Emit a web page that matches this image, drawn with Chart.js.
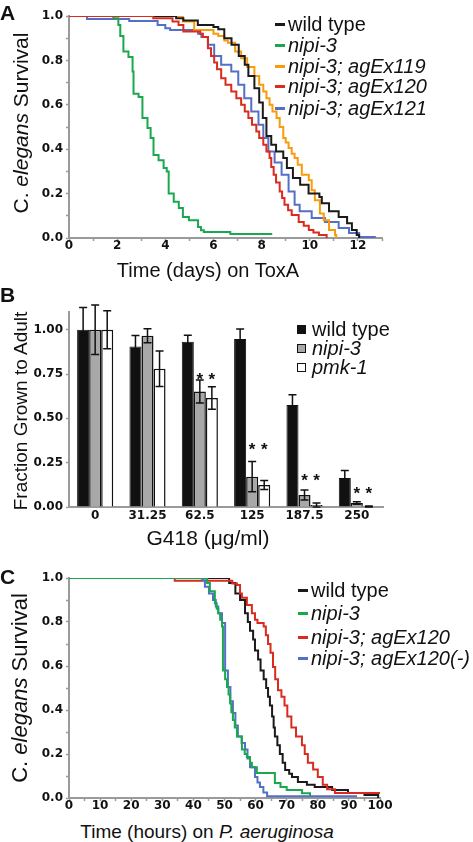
<!DOCTYPE html>
<html>
<head>
<meta charset="utf-8">
<script src="https://cdn.jsdelivr.net/npm/chart.js@4.4.1/dist/chart.umd.min.js"></script>
<style>
  html, body { margin: 0; padding: 0; background: #fff; }
  #page { position: relative; width: 473px; height: 842px; overflow: hidden;
          font-family: "Liberation Sans", Arial, sans-serif; color: #111; }
  canvas { position: absolute; left: 0; }
  .txt { position: absolute; white-space: nowrap; line-height: 1; }
  .ytitle { transform: translate(-50%, -50%) rotate(-90deg); }
  .xtitle { transform: translate(-50%, -50%); }
  .letter { font-weight: bold; font-size: 21px; }
  .leg { position: absolute; display: flex; align-items: center; white-space: nowrap;
         font-size: 20px; height: 20px; }
  .dash { display: inline-block; width: 10px; height: 3px; margin-right: 3px; }
  .sq { display: inline-block; width: 7px; height: 7px; border: 1px solid #111; margin-right: 6px; }
</style>
</head>
<body>
<div id="page">
  <canvas id="chartA" width="473" height="260" style="top:0px"></canvas>
  <canvas id="chartB" width="473" height="237" style="top:290px"></canvas>
  <canvas id="chartC" width="473" height="260" style="top:560px"></canvas>

  <div class="txt letter" style="left:0px; top:2px">A</div>
  <div class="txt letter" style="left:0px; top:284px">B</div>
  <div class="txt letter" style="left:0px; top:566px">C</div>

  <div class="txt ytitle" style="left:20px; top:123px; font-size:21px">C. <i>elegans</i> Survival</div>
  <div class="txt xtitle" style="left:208px; top:270px; font-size:20px">Time (days) on ToxA</div>

  <div class="txt ytitle" style="left:20px; top:411px; font-size:19px">Fraction Grown to Adult</div>
  <div class="txt xtitle" style="left:208px; top:537px; font-size:21px">G418 (μg/ml)</div>

  <div class="txt ytitle" style="left:20px; top:688px; font-size:22px">C. <i>elegans</i> Survival</div>
  <div class="txt xtitle" style="left:207px; top:831px; font-size:19px">Time (hours) on <i>P. aeruginosa</i></div>

  <div class="leg" style="left:275px; top:14px"><span class="dash" style="background:#1a1a1a"></span>wild type</div>
  <div class="leg" style="left:275px; top:35px"><span class="dash" style="background:#1aa84e"></span><i>nipi-3</i></div>
  <div class="leg" style="left:275px; top:56px"><span class="dash" style="background:#f99b0c"></span><i>nipi-3; agEx119</i></div>
  <div class="leg" style="left:275px; top:76px"><span class="dash" style="background:#d92b1e"></span><i>nipi-3; agEx120</i></div>
  <div class="leg" style="left:275px; top:98px"><span class="dash" style="background:#5470c6"></span><i>nipi-3; agEx121</i></div>

  <div class="leg" style="left:297px; top:319px"><span class="sq" style="background:#111"></span>wild type</div>
  <div class="leg" style="left:297px; top:338px"><span class="sq" style="background:#a8a8a8"></span><i>nipi-3</i></div>
  <div class="leg" style="left:297px; top:357px"><span class="sq" style="background:#fff"></span><i>pmk-1</i></div>

  <div class="leg" style="left:298px; top:580px"><span class="dash" style="background:#1a1a1a"></span>wild type</div>
  <div class="leg" style="left:298px; top:603px"><span class="dash" style="background:#1aa84e"></span><i>nipi-3</i></div>
  <div class="leg" style="left:298px; top:627px"><span class="dash" style="background:#d92b1e"></span><i>nipi-3; agEx120</i></div>
  <div class="leg" style="left:298px; top:648px"><span class="dash" style="background:#5470c6"></span><i>nipi-3; agEx120(-)</i></div>
</div>

<script>
// A: survival on ToxA (days)
const toxaWtDays = [0, 4.45, 4.75, 5.35, 6.0, 6.2, 6.45, 6.75, 7.05, 7.3, 7.45, 7.7, 7.9, 8.05, 8.2, 8.4, 8.6, 8.9, 9.05, 9.3, 9.6, 9.95, 10.4, 10.5, 10.8, 11.2, 11.55, 11.75, 11.95, 12.05];
const toxaWtSurv = [1, 0.99, 0.98, 0.96, 0.95, 0.94, 0.90, 0.87, 0.82, 0.78, 0.73, 0.675, 0.61, 0.54, 0.46, 0.42, 0.39, 0.36, 0.315, 0.27, 0.24, 0.20, 0.185, 0.157, 0.12, 0.095, 0.067, 0.036, 0.013, 0];
const toxaNipiDays = [0, 1.84, 2.05, 2.13, 2.26, 2.47, 2.64, 2.68, 2.89, 3.05, 3.26, 3.39, 3.51, 3.72, 3.93, 4.06, 4.14, 4.35, 4.56, 4.73, 4.98, 5.36, 5.48, 5.6, 6.7, 8.4];
const toxaNipiSurv = [1, 0.99, 0.96, 0.91, 0.84, 0.815, 0.75, 0.65, 0.635, 0.54, 0.495, 0.45, 0.374, 0.35, 0.315, 0.30, 0.20, 0.163, 0.135, 0.095, 0.08, 0.05, 0.035, 0.027, 0.018, 0.014];
const toxa119Days = [0, 4.73, 5.2, 6.0, 6.2, 6.45, 6.6, 6.9, 7.15, 7.4, 7.7, 7.9, 8.07, 8.2, 8.33, 8.45, 8.62, 8.75, 8.9, 9.0, 9.12, 9.25, 9.37, 9.5, 9.67, 9.96, 10.08, 10.21, 10.42, 10.58, 10.8, 11.05, 11.1];
const toxa119Surv = [1, 0.975, 0.937, 0.92, 0.91, 0.89, 0.88, 0.84, 0.81, 0.77, 0.73, 0.69, 0.66, 0.63, 0.60, 0.57, 0.54, 0.50, 0.45, 0.43, 0.405, 0.38, 0.36, 0.33, 0.285, 0.26, 0.215, 0.17, 0.11, 0.08, 0.036, 0.013, 0];
const toxa120Days = [0, 3.5, 4.3, 4.55, 4.75, 5.45, 5.56, 5.77, 5.9, 6.03, 6.15, 6.32, 6.5, 6.74, 6.95, 7.15, 7.3, 7.45, 7.6, 7.78, 7.9, 8.07, 8.2, 8.33, 8.4, 8.5, 8.6, 8.75, 8.85, 8.95, 9.1, 9.25, 9.54, 9.75, 9.96, 10.15, 10.38, 10.7];
const toxa120Surv = [1, 0.99, 0.975, 0.96, 0.93, 0.92, 0.905, 0.855, 0.82, 0.79, 0.76, 0.72, 0.69, 0.66, 0.63, 0.60, 0.57, 0.54, 0.51, 0.48, 0.45, 0.42, 0.39, 0.36, 0.32, 0.285, 0.25, 0.21, 0.18, 0.15, 0.125, 0.104, 0.072, 0.055, 0.036, 0.025, 0.013, 0];
const toxa121Days = [0, 0.75, 2.5, 3.68, 4.0, 4.2, 5.36, 5.5, 5.77, 6.03, 6.32, 6.74, 7.03, 7.28, 7.57, 7.87, 8.07, 8.28, 8.54, 8.83, 9.12, 9.37, 9.58, 10.08, 10.63, 11.2, 11.63, 12.05, 12.7];
const toxa121Surv = [1, 0.986, 0.977, 0.96, 0.945, 0.937, 0.92, 0.905, 0.87, 0.82, 0.78, 0.75, 0.69, 0.63, 0.57, 0.51, 0.45, 0.39, 0.34, 0.285, 0.21, 0.15, 0.12, 0.09, 0.072, 0.045, 0.022, 0.005, 0];

// B: growth on G418
const doses = ['0', '31.25', '62.5', '125', '187.5', '250'];
const wtGrowth = [1.00, 0.905, 0.932, 0.947, 0.576, 0.164];
const wtErr = [0.125, 0.063, 0.037, 0.057, 0.057, 0.042];
const nipiGrowth = [1.00, 0.966, 0.651, 0.171, 0.068, 0.022];
const nipiErr = [0.14, 0.04, 0.065, 0.085, 0.028, 0.007];
const pmkGrowth = [1.00, 0.78, 0.615, 0.124, 0.011, 0.003];
const pmkErr = [0.107, 0.10, 0.063, 0.025, 0.012, 0.003];
const starLevel = [null, null, 0.735, 0.34, 0.165, 0.095];
const growthTicks = [0, 0.25, 0.5, 0.75, 1.0];

// C: survival on P. aeruginosa (hours)
const paWtHours = [0, 51.5, 53.5, 55, 56.6, 57.5, 58.2, 59.2, 59.8, 60.8, 61.6, 62.6, 63.4, 64, 64.6, 65.3, 65.8, 66.2, 67, 67.8, 68.7, 69.5, 70.8, 71.7, 73.6, 76.5, 79, 84.6, 89.7, 95, 99.4];
const paWtSurv = [1, 0.977, 0.93, 0.90, 0.84, 0.80, 0.76, 0.72, 0.67, 0.63, 0.58, 0.54, 0.50, 0.46, 0.42, 0.37, 0.32, 0.28, 0.24, 0.20, 0.16, 0.127, 0.11, 0.095, 0.073, 0.06, 0.05, 0.036, 0.023, 0.014, 0];
const paNipiHours = [0, 44.4, 45.3, 46.9, 47.5, 48, 48.6, 49.2, 49.5, 50.2, 50.8, 51.3, 51.8, 52.2, 52.7, 53.3, 54, 55.6, 56.5, 57.2, 58.2, 58.8, 60.4, 66.2, 68, 70, 74.9, 77.5];
const paNipiSurv = [1, 0.977, 0.94, 0.885, 0.86, 0.84, 0.81, 0.78, 0.58, 0.54, 0.505, 0.47, 0.43, 0.39, 0.355, 0.32, 0.28, 0.22, 0.20, 0.186, 0.16, 0.14, 0.114, 0.068, 0.05, 0.036, 0.022, 0.008];
const pa120Hours = [0, 34, 52.5, 54, 55, 55.6, 57.2, 58.8, 59.8, 60.6, 62.6, 63.3, 64, 64.8, 65.6, 66.3, 67.2, 68.3, 69.3, 70.2, 71.5, 73, 74.9, 75.8, 76.8, 78.5, 80, 81.6, 83, 85.5, 100];
const pa120Surv = [1, 0.988, 0.975, 0.968, 0.93, 0.91, 0.877, 0.84, 0.81, 0.795, 0.78, 0.74, 0.70, 0.66, 0.595, 0.54, 0.49, 0.46, 0.42, 0.37, 0.32, 0.28, 0.24, 0.20, 0.16, 0.13, 0.095, 0.06, 0.04, 0.023, 0.02];
const pa120mHours = [0, 42.8, 43.7, 45, 46.3, 47.2, 48, 49.2, 50.2, 51.1, 51.9, 52.7, 53.5, 54.3, 55.5, 56.6, 57.4, 58.2, 59.8, 60.6, 61.4, 62.5, 63.7, 92.6];
const pa120mSurv = [1, 0.99, 0.96, 0.93, 0.90, 0.87, 0.84, 0.795, 0.58, 0.505, 0.44, 0.386, 0.33, 0.28, 0.25, 0.22, 0.18, 0.14, 0.095, 0.07, 0.05, 0.025, 0.008, 0.008];

const BLACK = '#1a1a1a', GREEN = '#1aa84e', ORANGE = '#f99b0c', RED = '#d92b1e', BLUE = '#5470c6';
const AXIS = '#9a9a9a';
const tickFont = { family: 'DejaVu Sans', weight: 'bold', size: 12 };

function pts(xs, ys) {
  return xs.map((x, i) => ({ x: x, y: ys[i] }));
}

function curve(xs, ys, color, order) {
  return {
    data: pts(xs, ys),
    borderColor: color,
    borderWidth: 2,
    pointRadius: 0,
    stepped: true,
    fill: false,
    order: order
  };
}

// survival axis shared by A and C
function survivalY() {
  return {
    min: 0, max: 1,
    ticks: {
      stepSize: 0.1, autoSkip: false, font: tickFont, color: '#111', padding: 3,
      callback: v => (Math.round(v * 10) % 2 === 0 ? v.toFixed(1) : '')
    },
    grid: { drawOnChartArea: false, tickLength: 3, tickColor: AXIS, tickWidth: 1.5 },
    border: { color: AXIS, width: 2 },
    afterFit: s => { s.width = 69; }
  };
}

function timeX(max, step, every, lastLabel) {
  return {
    type: 'linear', min: 0, max: max,
    ticks: {
      stepSize: step, autoSkip: false, maxRotation: 0, font: tickFont, color: '#111', padding: -2,
      callback: v => (v % every === 0 && v <= lastLabel ? v : '')
    },
    grid: { drawOnChartArea: false, tickLength: 3, tickColor: AXIS, tickWidth: 1.5 },
    border: { color: AXIS, width: 2 },
    afterFit: s => { s.height = 22; }
  };
}

Chart.defaults.animation = false;

// Panel A
new Chart(document.getElementById('chartA'), {
  type: 'line',
  data: {
    datasets: [
      curve(toxaWtDays, toxaWtSurv, BLACK, 2),
      curve(toxaNipiDays, toxaNipiSurv, GREEN, 1),
      curve(toxa119Days, toxa119Surv, ORANGE, 3),
      curve(toxa120Days, toxa120Surv, RED, 0),
      curve(toxa121Days, toxa121Surv, BLUE, 4)
    ]
  },
  options: {
    responsive: false,
    layout: { padding: { top: 16, right: 91, left: 0, bottom: 0 } },
    plugins: { legend: { display: false }, tooltip: { enabled: false } },
    scales: { x: timeX(13, 1, 2, 12), y: survivalY() }
  }
});

// error bars from the dataset's errors array
const errorBars = {
  id: 'errorBars',
  afterDatasetsDraw(chart) {
    const ctx = chart.ctx, y = chart.scales.y;
    ctx.save();
    ctx.strokeStyle = '#111';
    ctx.lineWidth = 1.5;
    chart.data.datasets.forEach((ds, i) => {
      chart.getDatasetMeta(i).data.forEach((bar, j) => {
        const top = y.getPixelForValue(ds.data[j] + ds.errors[j]);
        const bot = y.getPixelForValue(Math.max(ds.data[j] - ds.errors[j], 0));
        ctx.beginPath();
        ctx.moveTo(bar.x, top); ctx.lineTo(bar.x, bot);
        ctx.moveTo(bar.x - 4, top); ctx.lineTo(bar.x + 4, top);
        ctx.moveTo(bar.x - 4, bot); ctx.lineTo(bar.x + 4, bot);
        ctx.stroke();
      });
    });
    ctx.restore();
  }
};

// significance stars over the mutant bars
const stars = {
  id: 'stars',
  afterDatasetsDraw(chart) {
    const ctx = chart.ctx, y = chart.scales.y;
    ctx.save();
    ctx.fillStyle = '#111';
    ctx.font = 'bold 17px "Liberation Sans", Arial, sans-serif';
    ctx.textAlign = 'center';
    ctx.textBaseline = 'middle';
    starLevel.forEach((lvl, j) => {
      if (lvl === null) return;
      [1, 2].forEach(i => {
        const bar = chart.getDatasetMeta(i).data[j];
        ctx.fillText('*', bar.x, y.getPixelForValue(lvl) + 4);
      });
    });
    ctx.restore();
  }
};

// Panel B
new Chart(document.getElementById('chartB'), {
  type: 'bar',
  data: {
    labels: doses,
    datasets: [
      { data: wtGrowth, errors: wtErr, backgroundColor: '#111', borderColor: '#111', borderWidth: 1 },
      { data: nipiGrowth, errors: nipiErr, backgroundColor: '#a8a8a8', borderColor: '#111', borderWidth: 1.5 },
      { data: pmkGrowth, errors: pmkErr, backgroundColor: '#fff', borderColor: '#111', borderWidth: 1.5 }
    ]
  },
  options: {
    responsive: false,
    layout: { padding: { top: 22, right: 90, left: 0, bottom: 0 } },
    datasets: { bar: { categoryPercentage: 0.69, barPercentage: 1.0 } },
    plugins: { legend: { display: false }, tooltip: { enabled: false } },
    scales: {
      x: {
        ticks: { font: tickFont, color: '#111', padding: 2, maxRotation: 0, autoSkip: false },
        grid: { drawOnChartArea: false, drawTicks: false },
        border: { color: AXIS, width: 2 },
        afterFit: s => { s.height = 20; }
      },
      y: {
        min: 0, max: 1.1,
        afterBuildTicks: s => { s.ticks = growthTicks.map(v => ({ value: v })); },
        ticks: { font: tickFont, color: '#111', padding: 3, callback: v => v.toFixed(2) },
        grid: { drawOnChartArea: false, tickLength: 3, tickColor: AXIS, tickWidth: 1.5 },
        border: { color: AXIS, width: 2 },
        afterFit: s => { s.width = 69; }
      }
    }
  },
  plugins: [errorBars, stars]
});

// Panel C
new Chart(document.getElementById('chartC'), {
  type: 'line',
  data: {
    datasets: [
      curve(paWtHours, paWtSurv, BLACK, 3),
      curve(paNipiHours, paNipiSurv, GREEN, 0),
      curve(pa120Hours, pa120Surv, RED, 2),
      curve(pa120mHours, pa120mSurv, BLUE, 1)
    ]
  },
  options: {
    responsive: false,
    layout: { padding: { top: 18, right: 93, left: 0, bottom: 0 } },
    plugins: { legend: { display: false }, tooltip: { enabled: false } },
    scales: { x: timeX(100, 5, 10, 100), y: survivalY() }
  }
});
</script>
</body>
</html>
